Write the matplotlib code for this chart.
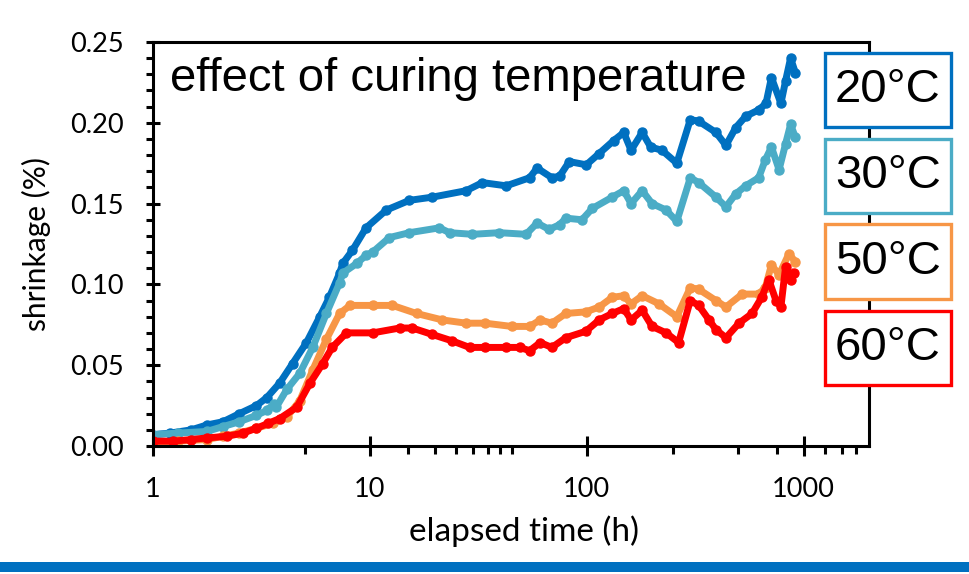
import matplotlib
matplotlib.use("Agg")
import matplotlib.pyplot as plt
from matplotlib.patches import Rectangle
from matplotlib.ticker import FixedLocator, NullFormatter, MultipleLocator

# elapsed time (h) and shrinkage (%)
t20 = [1.0, 1.2, 1.5, 1.77, 2.1, 2.5, 3.0, 3.35, 3.84, 4.4, 5.1, 5.87, 6.5, 7.25, 7.5, 8.3,
       9.6, 11.9, 15.2, 19.4, 27.8, 33, 42.5, 54.5, 59, 69, 75, 83, 99.5, 114, 133, 148,
       160, 180, 197, 222, 260, 300, 328, 394, 438, 486, 540, 620, 670, 710, 785, 825, 870, 915]
s20 = [.007, .008, .010, .013, .015, .020, .025, .030, .039, .051, .064, .080, .092, .107, .113, .121,
       .135, .146, .152, .154, .158, .163, .161, .166, .172, .166, .167, .176, .174, .181, .189, .194,
       .183, .194, .185, .183, .175, .202, .201, .194, .186, .197, .204, .208, .212, .228, .212, .226, .240, .231]

t30 = [1.0, 1.3, 1.77, 2.1, 2.5, 3.0, 3.35, 3.6, 3.7, 4.14, 4.75, 5.45, 6.3, 7.25, 7.5, 8.7,
       9.6, 10.3, 12.3, 15.2, 20.9, 23.3, 29.7, 39.5, 52.5, 59, 67, 75, 80, 95, 106, 131,
       148, 160, 180, 200, 232, 260, 300, 328, 394, 438, 486, 540, 620, 665, 710, 770, 825, 870, 915]
s30 = [.007, .008, .009, .012, .015, .019, .022, .026, .024, .035, .045, .061, .082, .101, .107, .113,
       .118, .120, .129, .132, .135, .132, .131, .132, .131, .138, .134, .137, .141, .140, .147, .154,
       .158, .150, .158, .150, .146, .139, .166, .163, .154, .148, .156, .161, .166, .177, .185, .171, .187, .199, .191]

t50 = [1.0, 1.3, 1.77, 2.1, 2.5, 3.0, 3.57, 4.14, 4.75, 5.45, 6.3, 7.25, 8.1, 10.3, 12.7, 16.4,
       21.6, 27.8, 34, 45, 54.5, 61, 69, 80, 99, 114, 131, 148, 160, 180, 215, 260,
       300, 328, 394, 438, 520, 620, 665, 710, 770, 855, 915]
s50 = [.002, .003, .004, .006, .008, .011, .014, .018, .028, .047, .066, .082, .087, .087, .087, .082,
       .078, .076, .076, .074, .074, .078, .076, .082, .083, .086, .092, .093, .088, .093, .088, .080,
       .098, .097, .090, .086, .094, .094, .098, .112, .106, .119, .114]

t60 = [1.0, 1.24, 1.5, 1.77, 2.19, 2.6, 3.0, 3.4, 3.84, 4.6, 5.3, 6.06, 6.7, 7.8, 10.3, 13.7,
       15.7, 19.4, 24, 28.8, 34, 42.5, 49, 54.5, 61, 69, 80, 99, 114, 131, 148, 160,
       180, 200, 232, 265, 300, 328, 366, 394, 438, 503, 578, 640, 690, 745, 785, 825, 870, 900]
s60 = [.003, .003, .004, .005, .006, .008, .011, .014, .017, .024, .039, .051, .061, .070, .070, .073,
       .073, .069, .065, .061, .061, .061, .061, .059, .064, .061, .067, .071, .078, .082, .085, .078,
       .084, .074, .070, .064, .090, .087, .078, .072, .067, .076, .082, .092, .103, .090, .086, .111, .103, .107]

labels = ["20°C", "30°C", "50°C", "60°C"]
colors = ["#0070C0", "#4BACC6", "#F79646", "#FF0000"]
xticks = [1, 10, 100, 1000]
xminor = [5, 15, 20, 25, 30, 35, 40, 45, 250, 500, 750, 1250, 1500, 1750]

W, H = 970, 574
fig = plt.figure(figsize=(W / 100, H / 100), dpi=100)
ax = fig.add_axes([153 / W, 1 - 446 / H, (869 - 153) / W, (446 - 42) / H])

tick_font = ["Lato", "DejaVu Sans"]
for t, s, c in zip([t20, t30, t50, t60], [s20, s30, s50, s60], colors):
    ax.plot(t, s, color=c, lw=5, marker="o", ms=6.5, mec=c, mfc=c, solid_joinstyle="round")

ax.set_xscale("log")
ax.set_xlim(1, 2000)
ax.set_ylim(0, 0.25)
ax.xaxis.set_major_locator(FixedLocator(xticks))
ax.set_xticklabels([str(v) for v in xticks], family=tick_font, fontsize=19.5)
ax.xaxis.set_minor_locator(FixedLocator(xminor))
ax.xaxis.set_minor_formatter(NullFormatter())
ax.yaxis.set_minor_locator(MultipleLocator(0.01))
ax.set_yticks([0, 0.05, 0.10, 0.15, 0.20, 0.25])
ax.set_yticklabels([f"{v:.2f}" for v in [0, 0.05, 0.10, 0.15, 0.20, 0.25]], family=tick_font, fontsize=19.5)

for sp in ax.spines.values():
    sp.set_linewidth(2.2)
ax.tick_params(axis="x", which="major", direction="inout", length=15, width=2.2, pad=14.5)
ax.tick_params(axis="x", which="minor", direction="out", length=6, width=2.2)
ax.tick_params(axis="y", which="major", direction="inout", length=10, width=2.2, pad=16)
ax.tick_params(axis="y", which="minor", direction="out", length=5, width=2.2)

ax.set_xlabel("elapsed time (h)", family=tick_font, fontsize=24, labelpad=10,
              x=(524 - 153) / (869 - 153))
ax.set_ylabel("shrinkage (%)", family=tick_font, fontsize=21.5, labelpad=14)

fig.text(170 / W, 1 - 91 / H, "effect of curing temperature", family="Liberation Sans",
         fontsize=34, va="baseline", ha="left")

# temperature boxes on the right
box_y = [(53, 127), (139, 213), (224, 299), (311, 385)]
for (y0, y1), lab, c in zip(box_y, labels, colors):
    fig.patches.append(Rectangle((825 / W, 1 - y1 / H), 126 / W, (y1 - y0) / H,
                                 transform=fig.transFigure, facecolor="white",
                                 edgecolor=c, lw=2.4, zorder=5))
    fig.text(888 / W, 1 - (y0 + y1) / 2 / H, lab, family="Liberation Sans", fontsize=34,
             ha="center", va="center", zorder=6)

# blue strip at the bottom
fig.patches.append(Rectangle((0, 2 / H), 1, 10 / H, transform=fig.transFigure,
                             facecolor="#0070C0", edgecolor="none"))

fig.savefig("out.png", dpi=100)
